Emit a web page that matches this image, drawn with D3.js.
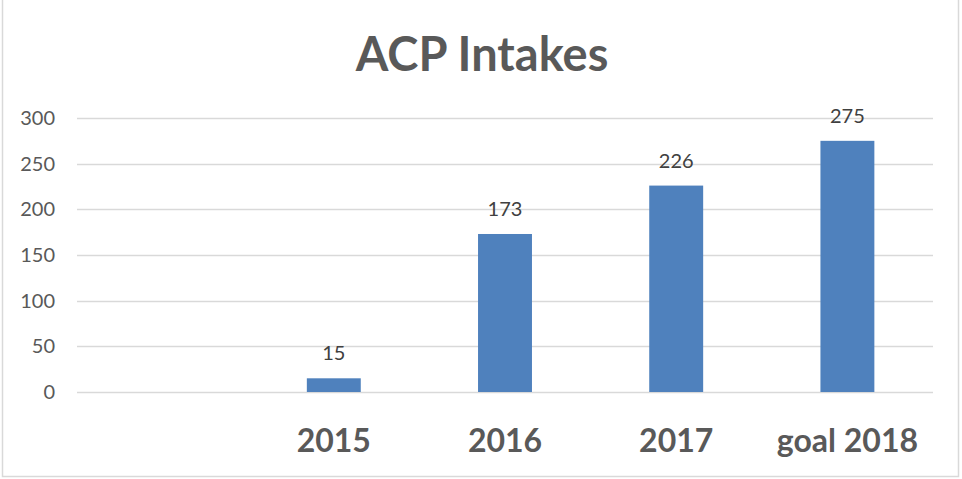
<!DOCTYPE html>
<html>
<head>
<meta charset="utf-8">
<script src="https://cdn.jsdelivr.net/npm/d3@7"></script>
<style>
  body { margin: 0; background: #fff; }
  svg { display: block; font-family: Lato, "Open Sans", sans-serif; }
</style>
</head>
<body>
<div id="chart"></div>
<script>
// data
var categories = ["", "2015", "2016", "2017", "goal 2018"];
var intakes = [null, 15, 173, 226, 275];
var yTicks = [0, 50, 100, 150, 200, 250, 300];

var width = 962, height = 479;
var margin = { top: 118, right: 29, bottom: 87, left: 77 };

var svg = d3.select("#chart")
    .append("svg")
    .attr("width", width)
    .attr("height", height);

// outer chart border
svg.append("rect")
    .attr("x", 2.5).attr("y", -1)
    .attr("width", 956).attr("height", 477.5)
    .attr("fill", "none")
    .attr("stroke", "#d9d9d9")
    .attr("stroke-width", 1.5);

var x = d3.scaleBand()
    .domain(categories)
    .range([margin.left, width - margin.right])
    .paddingInner(0.685)
    .paddingOuter(0.3425);

var y = d3.scaleLinear()
    .domain([0, 300])
    .range([height - margin.bottom, margin.top]);

// gridlines
svg.append("g")
    .selectAll("line")
    .data(yTicks)
    .enter()
    .append("line")
    .attr("x1", margin.left)
    .attr("x2", width - margin.right)
    .attr("y1", d => Math.round(y(d)) + 0.5)
    .attr("y2", d => Math.round(y(d)) + 0.5)
    .attr("stroke", "#d9d9d9")
    .attr("stroke-width", 1.3);

// y axis labels
var yAxis = d3.axisLeft(y).tickValues(yTicks).tickSize(0).tickPadding(22);
var gy = svg.append("g")
    .attr("transform", "translate(" + margin.left + ",0)")
    .call(yAxis);
gy.select(".domain").remove();
gy.selectAll("text")
    .attr("fill", "#595959")
    .style("font-size", "20px")
    .style("font-family", "Lato, sans-serif");

// bars
var pts = categories.map((c, i) => ({ cat: c, val: intakes[i] })).filter(d => d.val != null);

svg.append("g")
    .selectAll("rect")
    .data(pts)
    .enter()
    .append("rect")
    .attr("x", d => x(d.cat))
    .attr("width", x.bandwidth())
    .attr("y", d => y(d.val))
    .attr("height", d => y(0) - y(d.val))
    .attr("fill", "#4f81bd");

// value labels
svg.append("g")
    .selectAll("text")
    .data(pts)
    .enter()
    .append("text")
    .attr("x", d => x(d.cat) + x.bandwidth() / 2)
    .attr("y", d => y(d.val) - 18)
    .attr("text-anchor", "middle")
    .attr("fill", "#404040")
    .style("font-size", "20px")
    .text(d => d.val);

// x axis labels
var xAxis = d3.axisBottom(x).tickSize(0).tickPadding(0);
var gx = svg.append("g")
    .attr("transform", "translate(0," + y(0) + ")")
    .call(xAxis);
gx.select(".domain").remove();
gx.selectAll("text")
    .attr("y", 60)
    .attr("dy", 0)
    .attr("fill", "#595959")
    .style("font-size", "32px")
    .style("font-weight", "bold")
    .style("font-family", "Lato, sans-serif");

// title
svg.append("text")
    .attr("x", 482)
    .attr("y", 71)
    .attr("text-anchor", "middle")
    .attr("fill", "#595959")
    .style("font-size", "47px")
    .style("font-weight", "bold")
    .text("ACP Intakes");
</script>
</body>
</html>
